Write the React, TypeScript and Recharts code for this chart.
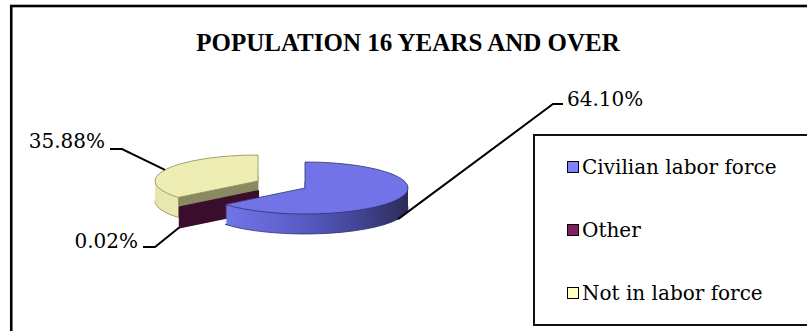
import { PieChart, Pie, Cell } from 'recharts';

const categories = ['Civilian labor force', 'Other', 'Not in labor force'];
const shares = [64.1, 0.02, 35.88];
const legendColors = ['#8080ff', '#802060', '#ffffc0'];

const topColors = ['#7373e8', '#3b0e2c', '#eeeeb4'];
const sideFills = ['url(#sideBlue)', '#3b0e2c', 'url(#sideYellow)'];
const edgeColors = ['#30326a', '#2a0920', '#8a8a5c'];

const data = categories.map((name, i) => ({ name, value: shares[i] }));

// ellipse geometry of the tilted pie
const CX = 281;
const CY = 185;
const RX = 103;
const RY = 26;
const DEPTH = 20;
const SQUASH = RY / RX;
// how far each slice is pulled out of the centre
const EXPLODE = [
  [24, 3],
  [-22, 6],
  [-23, -4],
];
// back slices first so the front one covers them
const DRAW_ORDER = [2, 1, 0];
const LAYERS = Array.from({ length: DEPTH + 1 }, (_, k) => DEPTH - k);

// where the percent labels sit and how their leaders bend
const LABEL_LAYOUT = [
  { elbow: [553, 104], end: [563, 104], textX: 567, baseline: 106, anchor: 'start' },
  { elbow: [155, 247], end: [143, 247], textX: 138, baseline: 248, anchor: 'end' },
  { elbow: [122, 149], end: [110, 149], textX: 105, baseline: 148, anchor: 'end' },
];

const FONT = "'DejaVu Serif', serif";

// slice boundaries (clockwise from 12 o'clock), used for the side shading
const total = shares.reduce((a, b) => a + b, 0);
const blueEnd = (shares[0] / total) * 2 * Math.PI;
const yellowStart = ((shares[0] + shares[1]) / total) * 2 * Math.PI;
// gradients live in the pie's own (untranslated) coordinates
const blueX1 = CX + RX * Math.sin(blueEnd);
const blueX2 = CX + RX;
const yellowX1 = CX - RX;
const yellowX2 = CX;
const yellowCut = (CX + RX * Math.sin(yellowStart) - yellowX1) / (yellowX2 - yellowX1);

// each layer of the pie is squashed into an ellipse and shifted down by its depth;
// the class also lands on inner groups, so only the outermost one gets transformed
const layerCss =
  DRAW_ORDER.flatMap((idx) =>
    LAYERS.map((depth) => {
      const [ox, oy] = EXPLODE[idx];
      return `.pl-${idx}-${depth}{transform:translate(${ox}px,${oy + depth + CY}px) scale(1,${SQUASH}) translate(0px,${-CY}px);transform-origin:0 0;transform-box:view-box;}`;
    })
  ).join('') + '.pl .pl{transform:none !important;}.pl path{vector-effect:non-scaling-stroke;}';

function renderLabel(props: any) {
  const { midAngle, index, value } = props;
  const rad = (midAngle * Math.PI) / 180;
  const [ox, oy] = EXPLODE[index];
  const x = CX + ox + RX * Math.cos(rad);
  const yTop = CY + oy - RY * Math.sin(rad);
  const y = Math.sin(rad) < 0 ? yTop + DEPTH : yTop;
  const l = LABEL_LAYOUT[index];
  return (
    <g key={`lbl-${index}`}>
      <polyline
        points={`${x},${y} ${l.elbow[0]},${l.elbow[1]} ${l.end[0]},${l.end[1]}`}
        fill="none"
        stroke="#000"
        strokeWidth={2}
      />
      <text
        x={l.textX}
        y={l.baseline}
        textAnchor={l.anchor}
        fontFamily={FONT}
        fontSize={20}
        fill="#000"
      >
        {`${Number(value).toFixed(2)}%`}
      </text>
    </g>
  );
}

export default function App() {
  return (
    <div style={{ position: 'relative', width: 807, height: 331, overflow: 'hidden', background: '#fff' }}>
      <style>{'html,body{margin:0;padding:0;overflow:hidden;}' + layerCss}</style>
      <PieChart width={807} height={331} margin={{ top: 0, right: 0, bottom: 0, left: 0 }}>
        <defs>
          <linearGradient id="sideBlue" gradientUnits="userSpaceOnUse" x1={blueX1} y1={0} x2={blueX2} y2={0}>
            <stop offset="0" stopColor="#7275e6" />
            <stop offset="0.35" stopColor="#5d60cc" />
            <stop offset="0.7" stopColor="#44479a" />
            <stop offset="1" stopColor="#2b2d58" />
          </linearGradient>
          <linearGradient id="sideYellow" gradientUnits="userSpaceOnUse" x1={yellowX1} y1={0} x2={yellowX2} y2={0}>
            <stop offset="0" stopColor="#e6e6ac" />
            <stop offset={yellowCut - 0.005} stopColor="#e9e9b0" />
            <stop offset={yellowCut + 0.005} stopColor="#8a8a62" />
            <stop offset="1" stopColor="#8a8a62" />
          </linearGradient>
        </defs>
        <rect x={11.25} y={6} width={900} height={400} fill="none" stroke="#000" strokeWidth={2.6} />
        <text
          x={408}
          y={51}
          textAnchor="middle"
          fontFamily="'Liberation Serif', serif"
          fontWeight="bold"
          fontSize={25}
          fill="#000"
        >
          POPULATION 16 YEARS AND OVER
        </text>
        {DRAW_ORDER.map((idx) =>
          LAYERS.map((depth) => {
            const isTop = depth === 0;
            const isBottom = depth === DEPTH;
            const thin = idx === 1;
            const stroke = thin ? topColors[idx] : isTop || isBottom ? edgeColors[idx] : 'none';
            return (
              <Pie
                key={`s${idx}-${depth}`}
                className={`pl pl-${idx}-${depth}`}
                data={data}
                dataKey="value"
                cx={CX}
                cy={CY}
                innerRadius={0}
                outerRadius={RX}
                startAngle={90}
                endAngle={-270}
                isAnimationActive={false}
                legendType="none"
              >
                {data.map((_, i) => (
                  <Cell
                    key={i}
                    fill={i === idx ? (isTop ? topColors[i] : sideFills[i]) : 'none'}
                    stroke={i === idx ? stroke : 'none'}
                    strokeWidth={thin ? 2 : 0.8}
                  />
                ))}
              </Pie>
            );
          })
        )}
        <Pie
          data={data}
          dataKey="value"
          cx={CX}
          cy={CY}
          outerRadius={RX}
          startAngle={90}
          endAngle={-270}
          isAnimationActive={false}
          legendType="none"
          label={renderLabel}
          labelLine={false}
        >
          {data.map((_, i) => (
            <Cell key={i} fill="none" stroke="none" />
          ))}
        </Pie>
      </PieChart>
      <div
        style={{
          position: 'absolute',
          left: 533,
          top: 134,
          width: 320,
          height: 192,
          border: '2px solid #111',
          boxSizing: 'border-box',
          background: '#fff',
        }}
      >
        {categories.map((c, i) => (
          <div
            key={c}
            style={{
              position: 'absolute',
              left: 32,
              top: 18.5 + i * 63,
              height: 24,
              display: 'flex',
              alignItems: 'center',
              whiteSpace: 'nowrap',
            }}
          >
            <span
              style={{
                width: 10,
                height: 10,
                border: '1.5px solid #000',
                background: legendColors[i],
                display: 'inline-block',
              }}
            />
            <span style={{ marginLeft: 3, fontFamily: FONT, fontSize: 20, lineHeight: '24px', color: '#000' }}>
              {c}
            </span>
          </div>
        ))}
      </div>
    </div>
  );
}
